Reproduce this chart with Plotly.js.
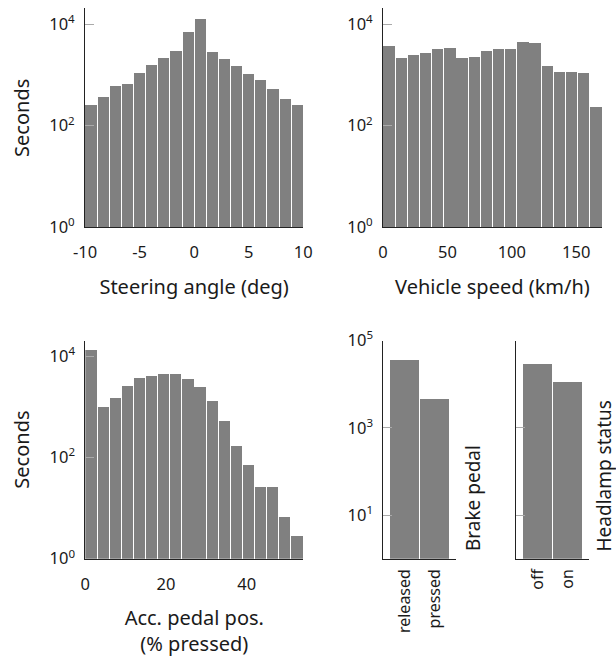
<!DOCTYPE html>
<html>
<head>
<meta charset="utf-8">
<script src="https://cdn.plot.ly/plotly-3.0.1.min.js"></script>
<style>html,body{margin:0;padding:0;background:#fff;}#chart{width:616px;height:660px;}</style>
</head>
<body>
<div id="chart"></div>
<script>
// ---- data ----
const steerBinStart = -10, steerBinWidth = 20 / 18;
const steerCounts = [255, 360, 585, 660, 1050, 1510, 2140, 2950, 6950, 12300, 2740, 2010, 1490, 1020, 780, 525, 334, 255];
const steerTickVals = [-10, -5, 0, 5, 10];
const steerTickText = ['-10', '-5', '0', '5', '10'];
const speedBinStart = 0, speedBinWidth = 170 / 18;
const speedCounts = [3700, 2090, 2390, 2620, 3220, 3380, 2110, 2200, 2890, 3170, 3170, 4440, 4100, 1470, 1140, 1140, 1050, 226];
const speedTickVals = [0, 50, 100, 150];
const accBinStart = 0, accBinWidth = 3;
const accCounts = [13500, 1000, 1560, 2620, 3740, 4230, 4640, 4570, 3700, 2500, 1340, 535, 172, 73, 27, 27, 6.7, 2.9];
const accTickVals = [0, 20, 40];
const brakeCats = ['released', 'pressed'];
const brakeCounts = [36800, 4640];
const headCats = ['off', 'on'];
const headCounts = [29800, 11350];
const histTickVals = [1, 100, 10000];
const histTickText = ['10<sup>0</sup>', '10<sup>2</sup>', '10<sup>4</sup>'];
const catTickVals = [10, 1000, 100000];
const catTickText = ['10<sup>1</sup>', '10<sup>3</sup>', '10<sup>5</sup>'];

function centers(start, w, n) { const c = []; for (let i = 0; i < n; i++) c.push(start + w * (i + 0.5)); return c; }

const BAR = '#808080';
const FONT = 'Noto Sans, Open Sans, sans-serif';
const TXT = '#1a1a1a';
const TITLE_FONT = { size: 20, family: FONT, color: TXT };
const SIDE_FONT = { size: 19, family: FONT, color: TXT };
function bar(x, y, w, xa, ya) {
  return { type: 'bar', x: x, y: y, width: w, xaxis: xa, yaxis: ya, marker: { color: BAR, line: { width: 0 } }, hoverinfo: 'x+y' };
}
const data = [
  bar(centers(steerBinStart, steerBinWidth, steerCounts.length), steerCounts, steerBinWidth * 0.92, 'x', 'y'),
  bar(centers(speedBinStart, speedBinWidth, speedCounts.length), speedCounts, speedBinWidth * 0.92, 'x2', 'y2'),
  bar(centers(accBinStart, accBinWidth, accCounts.length), accCounts, accBinWidth * 0.92, 'x3', 'y3'),
  bar(brakeCats, brakeCounts, 0.95, 'x4', 'y4'),
  bar(headCats, headCounts, 0.95, 'x5', 'y5')
];

const W = 616, H = 660;
const fx = (a, b) => [a / W, b / W];
const fy = (top, bottom) => [(H - bottom) / H, (H - top) / H];

function axLine(size) {
  return { showline: true, linecolor: '#222', linewidth: 1, showgrid: false, zeroline: false, tickfont: { size: size, color: TXT, family: FONT } };
}
function histY(dom, withTitle) {
  return Object.assign(axLine(16.5), {
    type: 'log', domain: dom, range: [0, 4.31], tickmode: 'array', tickvals: histTickVals, ticktext: histTickText,
    ticks: 'inside', ticklen: 9, tickcolor: '#aaa', ticklabelstandoff: 6,
    title: withTitle ? { text: 'Seconds', font: TITLE_FONT, standoff: 14 } : { text: '' }
  });
}
function histX(dom, range, vals, text, title) {
  return Object.assign(axLine(16.5), {
    domain: dom, range: range, tickmode: 'array', tickvals: vals, ticktext: text, ticks: '', ticklabelstandoff: 10,
    title: { text: title, font: TITLE_FONT, standoff: 17 }
  });
}
function catX(dom) {
  return Object.assign(axLine(16), { type: 'category', domain: dom, range: [-0.7, 1.68], ticks: '', tickangle: -90, ticklabelstandoff: 3 });
}
function catY(dom, showLabels) {
  return Object.assign(axLine(16.5), {
    type: 'log', domain: dom, range: [0, 5], tickmode: 'array', tickvals: catTickVals, ticktext: catTickText,
    ticks: 'inside', ticklen: 9, tickcolor: '#aaa', showticklabels: showLabels, ticklabelstandoff: 6
  });
}

const topY = fy(8.3, 227.3), botY = fy(340.5, 558.7);
const layout = {
  width: W, height: H, margin: { l: 0, r: 0, t: 0, b: 0 }, showlegend: false,
  paper_bgcolor: '#fff', plot_bgcolor: '#fff', font: { family: FONT, color: TXT, size: 16 },
  xaxis: Object.assign(histX(fx(85, 303.3), [-10, 10], steerTickVals, steerTickText, 'Steering angle (deg)'), { anchor: 'y' }),
  yaxis: Object.assign(histY(topY, true), { anchor: 'x' }),
  xaxis2: Object.assign(histX(fx(383, 602), [0, 170], speedTickVals, speedTickVals.map(String), 'Vehicle speed (km/h)'), { anchor: 'y2' }),
  yaxis2: Object.assign(histY(topY, false), { anchor: 'x2' }),
  xaxis3: Object.assign(histX(fx(85.3, 303.3), [0, 54], accTickVals, accTickVals.map(String), 'Acc. pedal pos.<br>(% pressed)'), { anchor: 'y3' }),
  yaxis3: Object.assign(histY(botY, true), { anchor: 'x3' }),
  xaxis4: Object.assign(catX(fx(383.3, 456)), { anchor: 'y4' }),
  yaxis4: Object.assign(catY(botY, true), { anchor: 'x4' }),
  xaxis5: Object.assign(catX(fx(516, 588.7)), { anchor: 'y5' }),
  yaxis5: Object.assign(catY(botY, false), { anchor: 'x5' }),
  bargap: 0,
  annotations: [
    { text: 'Brake pedal', textangle: -90, xref: 'paper', yref: 'paper', x: 473 / W, y: (H - 498) / H, xanchor: 'center', yanchor: 'middle', showarrow: false, font: SIDE_FONT },
    { text: 'Headlamp status', textangle: -90, xref: 'paper', yref: 'paper', x: 603 / W, y: (H - 476.5) / H, xanchor: 'center', yanchor: 'middle', showarrow: false, font: SIDE_FONT }
  ]
};
Plotly.newPlot('chart', data, layout, { displayModeBar: false });
</script>
</body>
</html>
